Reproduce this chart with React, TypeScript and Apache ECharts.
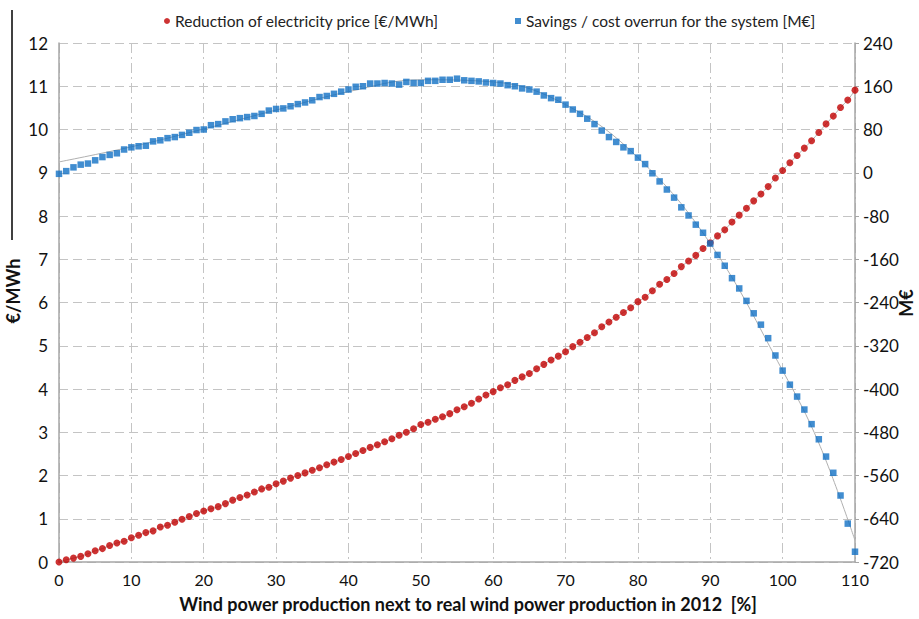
import React, { useEffect, useRef } from "react";
import * as echarts from "echarts";

const windShare = [
  0, 1, 2, 3, 4, 5, 6, 7, 8, 9, 10, 11, 12, 13, 14, 15, 16, 17, 18, 19, 20,
  21, 22, 23, 24, 25, 26, 27, 28, 29, 30, 31, 32, 33, 34, 35, 36, 37, 38, 39, 40,
  41, 42, 43, 44, 45, 46, 47, 48, 49, 50, 51, 52, 53, 54, 55, 56, 57, 58, 59, 60,
  61, 62, 63, 64, 65, 66, 67, 68, 69, 70, 71, 72, 73, 74, 75, 76, 77, 78, 79, 80,
  81, 82, 83, 84, 85, 86, 87, 88, 89, 90, 91, 92, 93, 94, 95, 96, 97, 98, 99, 100,
  101, 102, 103, 104, 105, 106, 107, 108, 109, 110,
];

const priceReduction = [
  0, 0.05, 0.09, 0.13, 0.19, 0.26, 0.31, 0.38, 0.44, 0.48, 0.56,
  0.62, 0.68, 0.72, 0.81, 0.85, 0.92, 0.99, 1.05, 1.12, 1.18,
  1.23, 1.28, 1.35, 1.43, 1.49, 1.55, 1.62, 1.69, 1.73, 1.81,
  1.87, 1.94, 2.0, 2.06, 2.12, 2.18, 2.25, 2.31, 2.37, 2.44,
  2.51, 2.58, 2.65, 2.71, 2.78, 2.85, 2.93, 3.0, 3.08, 3.18,
  3.23, 3.3, 3.36, 3.43, 3.52, 3.59, 3.67, 3.77, 3.86, 3.94,
  4.03, 4.1, 4.2, 4.28, 4.36, 4.47, 4.57, 4.67, 4.76, 4.86,
  4.98, 5.08, 5.19, 5.3, 5.44, 5.55, 5.66, 5.77, 5.88, 6.02,
  6.12, 6.27, 6.42, 6.53, 6.67, 6.83, 6.96, 7.09, 7.25, 7.38,
  7.54, 7.68, 7.86, 8.02, 8.18, 8.35, 8.51, 8.68, 8.88, 9.05,
  9.23, 9.4, 9.57, 9.74, 9.93, 10.13, 10.31, 10.51, 10.68, 10.91,
];

const systemSavings = [
  -2, 3, 10, 15, 17, 23, 29, 33, 36, 43, 47,
  49, 50, 58, 60, 64, 66, 70, 74, 79, 80,
  88, 90, 95, 99, 101, 103, 105, 109, 115, 118,
  119, 123, 127, 130, 134, 140, 142, 146, 150, 154,
  159, 160, 165, 165, 166, 165, 163, 168, 166, 166,
  170, 170, 172, 172, 174, 171, 170, 169, 167, 166,
  165, 162, 160, 156, 154, 150, 143, 138, 135, 126,
  117, 109, 100, 90, 78, 66, 57, 47, 40, 28,
  16, -1, -16, -31, -46, -64, -79, -96, -111, -131,
  -152, -172, -195, -214, -237, -260, -281, -306, -338, -366,
  -392, -414, -438, -465, -493, -525, -555, -597, -649, -701,
];

const savingsTrendX = [0, 10, 20, 30, 40, 50, 60, 70, 80, 90, 100, 105, 110];
const savingsTrendY = [20, 48, 81, 116, 150, 172, 168, 126, 28, -131, -366, -500, -680];

const priceName = "Reduction of electricity price [€/MWh]";
const savingsName = "Savings / cost overrun for the system [M€]";
const xTitle = "Wind power production next to real wind power production in 2012  [%]";
const leftTitle = "€/MWh";
const rightTitle = "M€";

const FONT = "Lato, 'Noto Sans', sans-serif";

export default function App() {
  const ref = useRef<HTMLDivElement>(null);

  useEffect(() => {
    if (!ref.current) return;
    const chart = echarts.init(ref.current, null, { renderer: "svg" });

    const pricePts = windShare.map((x, i) => [x, priceReduction[i]]);
    const savingsPts = windShare.map((x, i) => [x, systemSavings[i]]);
    const trendPts = savingsTrendX.map((x, i) => [x, savingsTrendY[i]]);

    const hGrid = { show: true, lineStyle: { color: "#c4c4c4", width: 1, type: [9, 5] } };
    const vGrid = { show: true, lineStyle: { color: "#c4c4c4", width: 1, type: [10, 4, 2, 4] } };

    chart.setOption({
      animation: false,
      textStyle: { fontFamily: FONT },
      grid: { left: 59, right: 64, top: 43, bottom: 57, containLabel: false, outerBoundsMode: "none" },
      legend: [
        {
          data: [priceName],
          left: 159,
          top: 8,
          icon: "circle",
          itemWidth: 6,
          itemHeight: 6,
          itemGap: 5,
          textStyle: { fontFamily: FONT, fontSize: 15.5, color: "#222" },
        },
        {
          data: [savingsName],
          left: 510,
          top: 8,
          icon: "rect",
          itemWidth: 6,
          itemHeight: 6,
          textStyle: { fontFamily: FONT, fontSize: 15.5, color: "#222" },
        },
      ],
      xAxis: {
        type: "value",
        min: 0,
        max: 110,
        interval: 10,
        name: xTitle,
        nameLocation: "middle",
        nameGap: 33,
        nameTextStyle: { fontFamily: FONT, fontSize: 18, fontWeight: "bold", color: "#111", padding: [0, 0, 0, 22] },
        axisLine: { show: true, lineStyle: { color: "#a6a6a6", width: 1.5 } },
        axisTick: { show: false },
        axisLabel: { fontSize: 16, color: "#111", margin: 9, fontFamily: FONT },
        splitLine: vGrid,
      },
      yAxis: [
        {
          type: "value",
          min: 0,
          max: 12,
          interval: 1,
          axisLine: { show: true, lineStyle: { color: "#a6a6a6", width: 1.5 } },
          axisTick: { show: false },
          axisLabel: { fontSize: 17, color: "#111", margin: 11, fontFamily: FONT },
          splitLine: hGrid,
        },
        {
          type: "value",
          min: -720,
          max: 240,
          interval: 80,
          position: "right",
          axisLine: { show: true, lineStyle: { color: "#a6a6a6", width: 1.5 } },
          axisTick: { show: true, length: 4, lineStyle: { color: "#a6a6a6" } },
          axisLabel: { fontSize: 17, color: "#111", margin: 8, fontFamily: FONT },
          splitLine: { show: false },
        },
      ],
      series: [
        {
          name: "priceTrend",
          type: "line",
          yAxisIndex: 0,
          data: pricePts,
          smooth: 0.3,
          showSymbol: false,
          silent: true,
          lineStyle: { color: "#b0b0b0", width: 1 },
          z: 1,
        },
        {
          name: "savingsTrend",
          type: "line",
          yAxisIndex: 1,
          data: trendPts,
          smooth: 0.4,
          showSymbol: false,
          silent: true,
          lineStyle: { color: "#b0b0b0", width: 1 },
          z: 1,
        },
        {
          name: priceName,
          type: "scatter",
          yAxisIndex: 0,
          data: pricePts,
          symbol: "circle",
          symbolSize: 7,
          itemStyle: { color: "#c00000" },
          z: 3,
        },
        {
          name: savingsName,
          type: "scatter",
          yAxisIndex: 1,
          data: savingsPts,
          symbol: "rect",
          symbolSize: 6.5,
          itemStyle: { color: "#1170c4" },
          z: 3,
        },
      ],
      graphic: [
        {
          type: "line",
          shape: { x1: 12, y1: 10, x2: 12, y2: 240 },
          style: { stroke: "#000", lineWidth: 1.5 },
        },
        {
          type: "text",
          x: 13,
          y: 291,
          rotation: Math.PI / 2,
          style: {
            text: leftTitle,
            fontFamily: FONT,
            fontSize: 18,
            fontWeight: "bold",
            fill: "#111",
            align: "center",
            verticalAlign: "middle",
          },
        },
        {
          type: "text",
          x: 906,
          y: 303,
          rotation: Math.PI / 2,
          style: {
            text: rightTitle,
            fontFamily: FONT,
            fontSize: 18,
            fontWeight: "bold",
            fill: "#111",
            align: "center",
            verticalAlign: "middle",
          },
        },
      ],
    });

    return () => chart.dispose();
  }, []);

  return <div ref={ref} style={{ width: 919, height: 619, position: "absolute", left: 0, top: 0 }} />;
}
